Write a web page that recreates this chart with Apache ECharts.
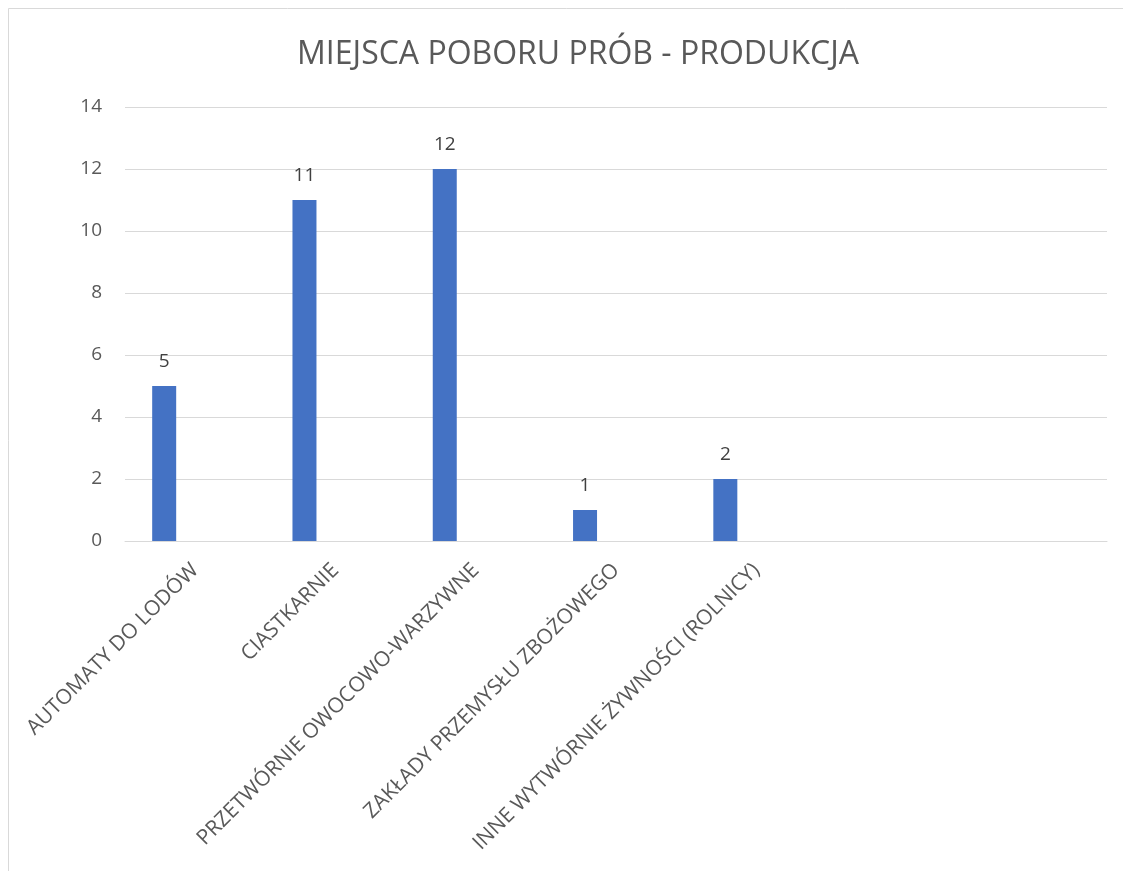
<!DOCTYPE html>
<html><head><meta charset="utf-8">
<script src="https://cdn.jsdelivr.net/npm/echarts@6/dist/echarts.min.js"></script>
<style>html,body{margin:0;padding:0;background:#fff}#c{width:1123px;height:871px}</style>
</head><body><div id="c"></div>
<script>
const titleText = 'MIEJSCA POBORU PRÓB - PRODUKCJA';
const categories = ['AUTOMATY DO LODÓW','CIASTKARNIE','PRZETWÓRNIE OWOCOWO-WARZYWNE','ZAKŁADY PRZEMYSŁU ZBOŻOWEGO','INNE WYTWÓRNIE ŻYWNOŚCI (ROLNICY)','',''];
const values = [5, 11, 12, 1, 2, null, null];
const yTicks = [0, 2, 4, 6, 8, 10, 12, 14];

const font = 'Open Sans';
const chart = echarts.init(document.getElementById('c'), null, {renderer:'canvas'});
chart.setOption({
  animation: false,
  backgroundColor: '#fff',
  title: {
    text: titleText, left: 573, top: 34, textAlign: 'center',
    textStyle: {fontFamily: font, fontSize: 32, fontWeight: 'normal', color: '#595959'}
  },
  graphic: [{type:'rect', shape:{x:8.5, y:8.5, width:1200, height:1000}, style:{fill:'none', stroke:'#d9d9d9', lineWidth:1}, silent:true}],
  grid: {left: 125, right: 16, top: 107, bottom: 330, containLabel: false},
  xAxis: {
    type: 'category', data: categories,
    axisLine: {lineStyle: {color: '#d9d9d9', width: 1}},
    axisTick: {show: false},
    axisLabel: {rotate: 45, interval: 0, margin: 26, color: '#595959', fontFamily: font, fontSize: 21}
  },
  yAxis: {
    type: 'value', min: yTicks[0], max: yTicks[yTicks.length-1], interval: 2,
    axisLine: {show: false}, axisTick: {show: false},
    splitLine: {lineStyle: {color: '#d9d9d9', width: 1}},
    axisLabel: {margin: 23, color: '#595959', fontFamily: font, fontSize: 19}
  },
  series: [
    {type: 'bar', data: values, barWidth: 24, barGap: '158%',
     itemStyle: {color: '#4472c4'},
     label: {show: true, position: 'top', distance: 15, color: '#404040', fontFamily: font, fontSize: 19}},
    {type: 'bar', data: [], barWidth: 24}
  ]
});
</script></body></html>
